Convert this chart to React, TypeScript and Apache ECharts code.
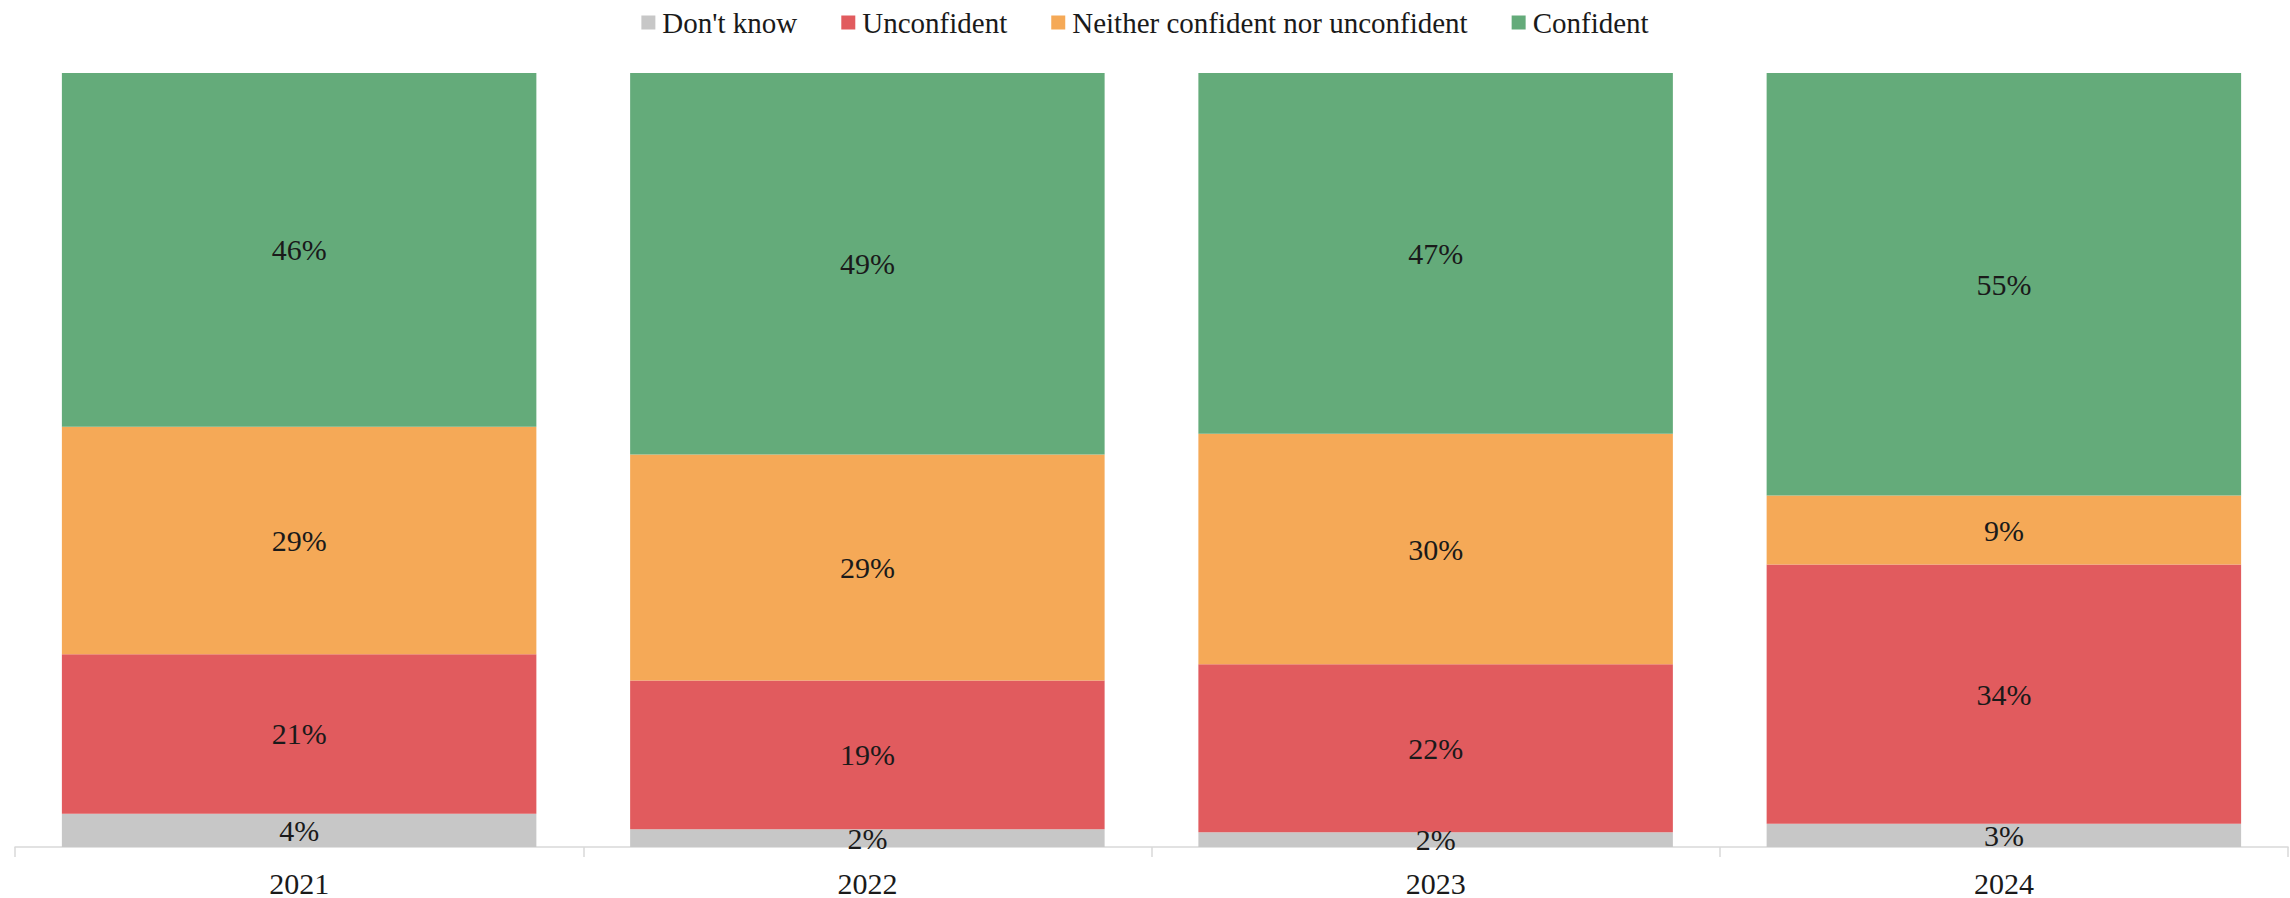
import React, { useEffect, useRef } from "react";
import * as echarts from "echarts";

const years = ["2021", "2022", "2023", "2024"];
const dontKnow = [4.3, 2.3, 1.9, 3.0];
const unconfident = [20.6, 19.2, 21.7, 33.5];
const neither = [29.4, 29.2, 29.8, 8.9];
const confident = [45.7, 49.3, 46.6, 54.6];

const seriesNames = ["Don't know", "Unconfident", "Neither confident nor unconfident", "Confident"];
const seriesColors = ["#c7c7c7", "#e15b5e", "#f5a957", "#64ab7a"];
const seriesData = [dontKnow, unconfident, neither, confident];

const FONT = "Georgia, 'Liberation Serif', 'DejaVu Serif', serif";

export default function App() {
  const ref = useRef<HTMLDivElement>(null);
  useEffect(() => {
    if (!ref.current) return;
    const chart = echarts.init(ref.current, null, { renderer: "svg" });
    chart.setOption({
      animation: false,
      backgroundColor: "#ffffff",
      textStyle: { fontFamily: FONT },
      legend: {
        top: 3,
        left: "center",
        itemWidth: 14,
        itemHeight: 14,
        itemGap: 44,
        icon: "rect",
        textStyle: { fontFamily: FONT, fontSize: 29, color: "#1a1a1a", padding: [0, 0, 0, 2] },
        data: seriesNames,
      },
      grid: { left: 15, right: 2, top: 73, bottom: 51, containLabel: false },
      xAxis: {
        type: "category",
        data: years,
        axisLine: { show: true, lineStyle: { color: "#d9d9d9", width: 1.5 } },
        axisTick: { show: true, length: 10, lineStyle: { color: "#d9d9d9", width: 1.5 } },
        axisLabel: { fontFamily: FONT, fontSize: 30, color: "#1a1a1a", margin: 21 },
      },
      yAxis: {
        type: "value",
        min: 0,
        max: 100,
        show: false,
        splitLine: { show: false },
      },
      series: seriesData.map((d, i) => ({
        name: seriesNames[i],
        type: "bar",
        stack: "total",
        data: d,
        barCategoryGap: "16.5%",
        itemStyle: { color: seriesColors[i] },
        label: {
          show: true,
          position: "inside",
          fontFamily: FONT,
          fontSize: 30,
          color: "#1a1a1a",
          formatter: (p: any) => Math.round(p.value) + "%",
        },
      })),
    });
    return () => chart.dispose();
  }, []);
  return (
    <div
      ref={ref}
      style={{ position: "fixed", left: 0, top: 0, width: 2290, height: 898 }}
    />
  );
}
